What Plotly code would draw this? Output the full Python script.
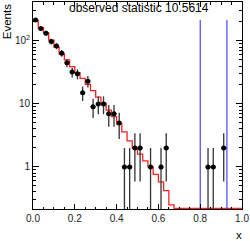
import numpy as np
import plotly.graph_objects as go

# ---- data ----
bin_edges = np.linspace(0.0, 1.0, 41)
bin_centers = 0.5 * (bin_edges[:-1] + bin_edges[1:])
half_width = 0.5 * (bin_edges[1] - bin_edges[0])

observed = [215, 157, 133, 98, 83, 64, 45, 32, 30, 15,
            23, 9, 10, 10, 7, 7, 5, 1, 1, 2,
            2, 0, 1, 0, 1, 2, 0, 0, 0, 0,
            0, 0, 0, 1, 1, 0, 2, 0, 0, 0]

expected = [210, 163, 134, 103, 80, 62, 50, 39, 31.5, 25.5,
            20.5, 16.3, 12.8, 10.3, 8.0, 6.3, 4.8, 3.6, 2.6, 2.0,
            1.6, 1.25, 1.0, 0.76, 0.58, 0.42, 0.25, 0, 0, 0,
            0, 0, 0, 0, 0, 0, 0, 0, 0, 0]

marker_lines_x = [0.8, 0.928]
marker_line_top = 215

title_text = "observed statistic 10.5614"
y_title = "Events"
x_title = "x"
x_tickvals = [0.0, 0.2, 0.4, 0.6, 0.8, 1.0]
x_ticktext = ["0.0", "0.2", "0.4", "0.6", "0.8", "1.0"]
y_tickvals = [1, 10, 100]
y_ticktext = ["1", "10", "10<sup>2</sup>"]

Y_MIN_LOG, Y_MAX_LOG = -0.668, 2.618
FLOOR = 0.22

# ---- figure ----
obs = np.array(observed, dtype=float)
mask = obs > 0
xc = bin_centers[mask]
yc = obs[mask]
err = np.sqrt(yc)

exp_arr = np.array(expected, dtype=float)
exp_plot = np.where(exp_arr > 0, exp_arr, FLOOR)
step_x = bin_edges
step_y = np.append(exp_plot, exp_plot[-1])

fig = go.Figure()
fig.add_trace(go.Scatter(x=step_x, y=step_y, mode="lines", line_shape="hv",
                         line=dict(color="#ff2020", width=1.3), hoverinfo="skip"))
for xv in marker_lines_x:
    fig.add_trace(go.Scatter(x=[xv, xv], y=[0.1, marker_line_top], mode="lines",
                             line=dict(color="#2020ff", width=1), hoverinfo="skip"))
fig.add_trace(go.Scatter(
    x=xc, y=yc, mode="markers",
    marker=dict(color="black", size=5),
    error_y=dict(type="data", array=err, color="#333333", thickness=1.3, width=0),
    error_x=dict(type="constant", value=half_width, color="#333333", thickness=1.3, width=0),
))

font = "Liberation Sans, Arial, sans-serif"
fig.update_layout(
    width=250, height=241,
    margin=dict(l=33, r=6, t=1, b=32),
    paper_bgcolor="white", plot_bgcolor="white",
    showlegend=False,
    font=dict(family=font, color="black", size=10),
)
fig.update_xaxes(
    range=[0, 1], showgrid=False, zeroline=False,
    showline=True, linecolor="black", linewidth=1, mirror="ticks",
    ticks="inside", ticklen=5, tickcolor="black",
    tickvals=x_tickvals, ticktext=x_ticktext, ticklabeloverflow="allow",
    tickfont=dict(size=10, family=font, color="#222"),
    minor=dict(ticks="inside", ticklen=2.5, dtick=0.05, tickcolor="black", showgrid=False),
)
minor_y = [m * d for d in (0.1, 1, 10, 100) for m in range(2, 10)]
fig.update_yaxes(
    type="log", range=[Y_MIN_LOG, Y_MAX_LOG], showgrid=False, zeroline=False,
    showline=True, linecolor="black", linewidth=1, mirror="ticks",
    ticks="inside", ticklen=6, tickcolor="black",
    tickvals=y_tickvals, ticktext=y_ticktext, ticklabeloverflow="allow",
    tickfont=dict(size=10, family=font, color="#222"),
    minor=dict(ticks="inside", ticklen=3, tickvals=minor_y, tickcolor="black", showgrid=False),
)

fig.add_annotation(text=title_text, xref="paper", yref="paper",
                   x=(140.5 - 33) / 211, y=(209 - 7.5) / 208,
                   xanchor="center", yanchor="middle", showarrow=False,
                   font=dict(size=12, family=font, color="black"))
fig.add_annotation(text=y_title, xref="paper", yref="paper",
                   x=(6.5 - 33) / 211, y=1.0, textangle=-90,
                   xanchor="center", yanchor="top", showarrow=False,
                   font=dict(size=11.5, family=font, color="black"))
fig.add_annotation(text=x_title, xref="paper", yref="paper",
                   x=(241 - 33) / 211, y=(209 - 235.5) / 208,
                   xanchor="center", yanchor="middle", showarrow=False,
                   font=dict(size=11.5, family=font, color="black"))

fig.write_html("out.html",
               config={"displayModeBar": False, "staticPlot": True},
               post_script="document.body.style.margin='0';document.body.style.overflow='hidden';")
